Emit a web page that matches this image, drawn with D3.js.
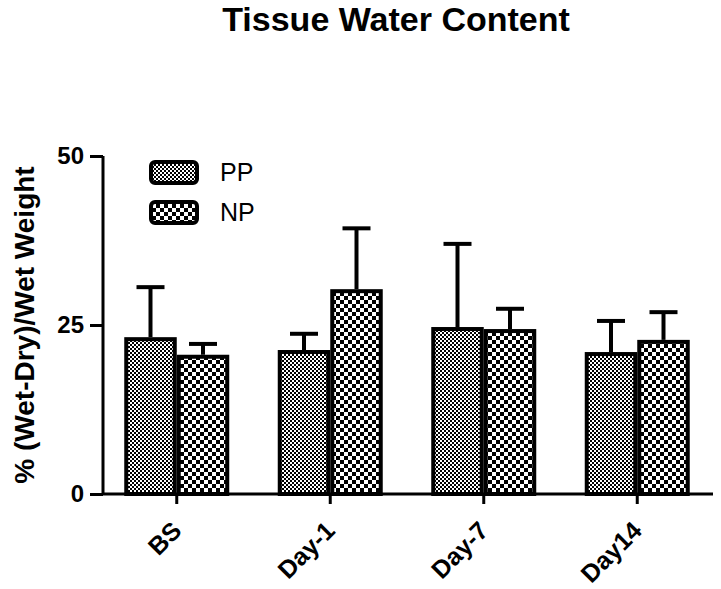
<!DOCTYPE html>
<html>
<head>
<meta charset="utf-8">
<script src="https://cdn.jsdelivr.net/npm/d3@7"></script>
<style>
html,body{margin:0;padding:0;background:#fff;}
svg{display:block;font-family:"Liberation Sans",Arial,sans-serif;}
</style>
</head>
<body>
<script>
const categories = ["BS", "Day-1", "Day-7", "Day14"];
const seriesNames = ["PP", "NP"];
const ppMean = [23.2, 21.3, 24.7, 21.0];
const ppErr  = [7.4, 2.4, 12.3, 4.6];
const npMean = [20.6, 30.3, 24.4, 22.8];
const npErr  = [1.6, 9.0, 3.0, 4.1];
const yTicks = [0, 25, 50];

const W = 721, H = 589;
const svg = d3.select("body").append("svg").attr("width", W).attr("height", H);

const defs = svg.append("defs");
// fine dotted pattern (PP)
const p1 = defs.append("pattern").attr("id", "patPP").attr("patternUnits", "userSpaceOnUse")
  .attr("width", 4).attr("height", 4);
p1.append("rect").attr("width", 4).attr("height", 4).attr("fill", "#000");
p1.append("rect").attr("x", 0).attr("y", 0).attr("width", 2).attr("height", 2).attr("fill", "#fff");
p1.append("rect").attr("x", 2).attr("y", 2).attr("width", 2).attr("height", 2).attr("fill", "#fff");
// coarse checker (NP)
const p2 = defs.append("pattern").attr("id", "patNP").attr("patternUnits", "userSpaceOnUse")
  .attr("width", 8).attr("height", 8);
p2.append("rect").attr("width", 8).attr("height", 8).attr("fill", "#fff");
p2.append("rect").attr("x", 0).attr("y", 0).attr("width", 4).attr("height", 4).attr("fill", "#000");
p2.append("rect").attr("x", 4).attr("y", 4).attr("width", 4).attr("height", 4).attr("fill", "#000");

const fills = {PP: "url(#patPP)", NP: "url(#patNP)"};

const x0 = d3.scaleBand().domain(categories).range([100, 714])
  .paddingInner(0.316).paddingOuter(0.158);
const x1 = d3.scaleBand().domain(seriesNames).range([0, x0.bandwidth()]).padding(0);
const y = d3.scaleLinear().domain([0, 50]).range([494, 156]);

const data = [];
categories.forEach((c, i) => {
  data.push({cat: c, s: "PP", v: ppMean[i], e: ppErr[i]});
  data.push({cat: c, s: "NP", v: npMean[i], e: npErr[i]});
});

// title
svg.append("text").attr("x", 396).attr("y", 31).attr("text-anchor", "middle")
  .attr("font-size", 34).attr("font-weight", "bold").text("Tissue Water Content");

// error bars (drawn before bars)
const eb = svg.append("g").attr("stroke", "#000").attr("stroke-width", 4);
data.forEach(d => {
  const cx = x0(d.cat) + x1(d.s) + x1.bandwidth() / 2;
  eb.append("line").attr("x1", cx).attr("x2", cx).attr("y1", y(d.v)).attr("y2", y(d.v + d.e));
  eb.append("line").attr("x1", cx - 14).attr("x2", cx + 14).attr("y1", y(d.v + d.e)).attr("y2", y(d.v + d.e));
});

// bars
svg.append("g").selectAll("rect").data(data).join("rect")
  .attr("x", d => x0(d.cat) + x1(d.s) + 2)
  .attr("y", d => y(d.v) + 2)
  .attr("width", x1.bandwidth() - 4)
  .attr("height", d => y(0) - y(d.v) - 2)
  .attr("fill", d => fills[d.s])
  .attr("stroke", "#000").attr("stroke-width", 4);

// y axis
const yAxis = svg.append("g").attr("transform", "translate(103,0)")
  .call(d3.axisLeft(y).tickValues(yTicks).tickSize(13).tickPadding(6));
yAxis.select(".domain").attr("stroke-width", 3).attr("d", `M0,${y(50)}V${y(0)}`);
yAxis.selectAll(".tick line").attr("stroke-width", 3);
yAxis.selectAll(".tick text").attr("font-size", 24).attr("font-weight", "bold")
  .attr("font-family", "Liberation Sans, Arial, sans-serif").attr("fill", "#000");

// x axis
const xAxis = svg.append("g").attr("transform", `translate(0,${y(0)})`)
  .call(d3.axisBottom(x0).tickSize(10).tickSizeOuter(0));
xAxis.select(".domain").attr("stroke-width", 3).attr("d", "M102,0H713");
xAxis.selectAll(".tick line").attr("stroke-width", 3);
xAxis.selectAll(".tick text").remove();
xAxis.selectAll(".tick").append("text")
  .attr("transform", "translate(0,32) rotate(-45)")
  .attr("text-anchor", "end").attr("dy", "0.35em")
  .attr("font-size", 25).attr("font-weight", "bold")
  .attr("font-family", "Liberation Sans, Arial, sans-serif").attr("fill", "#000")
  .text(d => d);

// y label
svg.append("text").attr("transform", "translate(34,325) rotate(-90)")
  .attr("text-anchor", "middle").attr("font-size", 28).attr("font-weight", "bold")
  .text("% (Wet-Dry)/Wet Weight");

// legend
const leg = svg.append("g");
seriesNames.forEach((s, i) => {
  const ly = 162 + i * 40;
  leg.append("rect").attr("x", 151).attr("y", ly).attr("width", 46).attr("height", 21)
    .attr("rx", 4).attr("fill", fills[s]).attr("stroke", "#000").attr("stroke-width", 4);
  leg.append("text").attr("x", 220).attr("y", ly + 10.5).attr("dy", "0.35em")
    .attr("font-size", 25).text(s);
});
</script>
</body>
</html>
